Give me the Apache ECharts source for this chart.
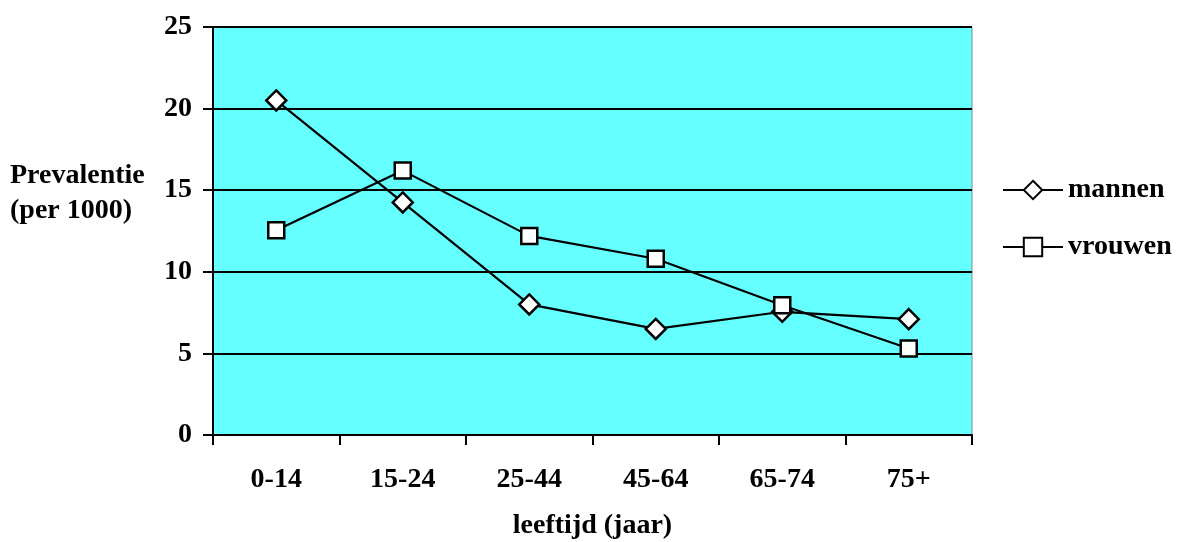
<!DOCTYPE html>
<html>
<head>
<meta charset="utf-8">
<script src="https://cdn.jsdelivr.net/npm/echarts@6/dist/echarts.min.js"></script>
<style>
  html, body { margin: 0; padding: 0; background: #ffffff; }
  #chart { width: 1180px; height: 542px; }
</style>
</head>
<body>
<div id="chart"></div>
<script>
// Age groups and prevalence per 1000 inhabitants
const ageGroups = ['0-14', '15-24', '25-44', '45-64', '65-74', '75+'];
const mannen = [20.5, 14.25, 8.0, 6.5, 7.55, 7.1];
const vrouwen = [12.55, 16.2, 12.2, 10.8, 7.95, 5.3];
const yTicks = { min: 0, max: 25, interval: 5 };

const serif = '"Liberation Serif", "Times New Roman", serif';
const chart = echarts.init(document.getElementById('chart'), null, { renderer: 'canvas' });

chart.setOption({
  backgroundColor: '#ffffff',
  animation: false,
  grid: {
    left: 213, right: 208, top: 27, bottom: 107,
    outerBoundsMode: 'none',
    containLabel: false,
    show: true,
    backgroundColor: '#66FFFF',
    borderColor: '#888888',
    borderWidth: 1
  },
  legend: {
    orient: 'vertical',
    left: 1002,
    top: 176,
    padding: 0,
    itemGap: 29,
    itemWidth: 60,
    itemHeight: 23,
    lineStyle: { width: 2 },
    textStyle: { fontFamily: serif, fontWeight: 'bold', fontSize: 28, color: '#000' },
    data: ['mannen', 'vrouwen']
  },
  graphic: [{
    type: 'text',
    left: 10,
    top: 158,
    style: {
      text: 'Prevalentie\n(per 1000)',
      font: 'bold 28px ' + serif,
      fill: '#000',
      lineHeight: 35
    }
  }],
  xAxis: {
    type: 'category',
    data: ageGroups,
    boundaryGap: true,
    name: 'leeftijd (jaar)',
    nameLocation: 'middle',
    nameGap: 77,
    nameTextStyle: { fontFamily: serif, fontWeight: 'bold', fontSize: 28, color: '#000' },
    axisLine: { lineStyle: { color: '#000', width: 2 } },
    axisTick: { show: true, length: 10, lineStyle: { color: '#000', width: 2 } },
    axisLabel: { margin: 31, fontFamily: serif, fontWeight: 'bold', fontSize: 28, color: '#000' },
    splitLine: { show: false }
  },
  yAxis: {
    type: 'value',
    min: yTicks.min,
    max: yTicks.max,
    interval: yTicks.interval,
    axisLine: { show: true, lineStyle: { color: '#000', width: 2 } },
    axisTick: { show: true, length: 10, lineStyle: { color: '#000', width: 2 } },
    axisLabel: { margin: 21, fontFamily: serif, fontWeight: 'bold', fontSize: 28, color: '#000' },
    splitLine: { show: true, lineStyle: { color: '#000', width: 2 } }
  },
  series: [
    {
      name: 'mannen',
      type: 'line',
      data: mannen,
      symbol: 'diamond',
      symbolSize: 20,
      lineStyle: { color: '#000', width: 2.2 },
      itemStyle: { color: '#ffffff', borderColor: '#000', borderWidth: 2.5 },
      z: 3
    },
    {
      name: 'vrouwen',
      type: 'line',
      data: vrouwen,
      symbol: 'rect',
      symbolSize: 16,
      lineStyle: { color: '#000', width: 2.2 },
      itemStyle: { color: '#ffffff', borderColor: '#000', borderWidth: 2.5 },
      z: 4
    }
  ]
});
</script>
</body>
</html>
